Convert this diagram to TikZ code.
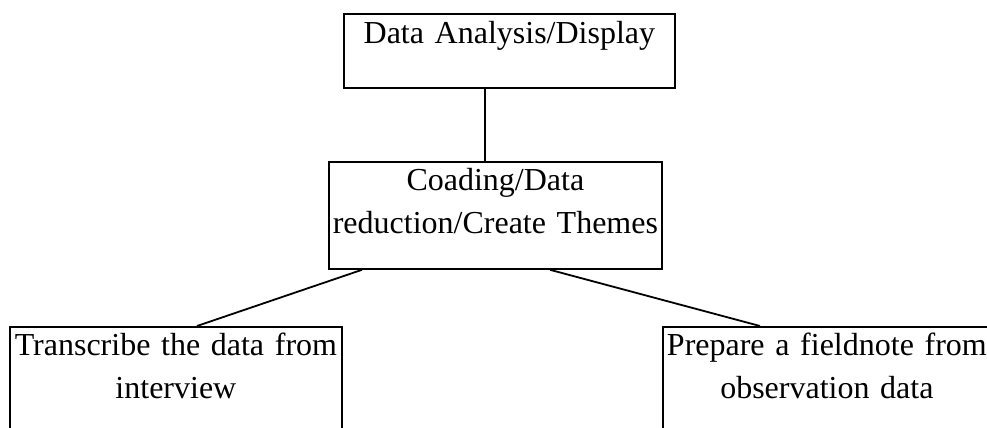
\documentclass[tikz,border=0pt]{standalone}
\usepackage{fontspec}
\setmainfont{Liberation Serif}
\usepackage{tikz}

\begin{document}
\begin{tikzpicture}[x=0.5pt,y=-0.5pt,
  procbox/.style={draw=black,line width=0.9pt,anchor=north west,inner sep=0pt,align=center,
    font=\fontsize{16pt}{21.5pt}\selectfont}]
  \useasboundingbox (0,0) rectangle (987,428);
  \clip (0,0) rectangle (987,428);
  \node[procbox,text width=165.5pt,text height=15pt,text depth=22pt] (analysis) at (343,13) {Data Analysis/Display};
  \node[procbox,text width=166.5pt,text height=14.5pt,text depth=39pt] (coding) at (328,161) {Coading/Data\\reduction/Create Themes};
  \node[procbox,text width=166pt,text height=14.5pt,text depth=60pt] (transcribe) at (9,326) {Transcribe the data from\\interview};
  \node[procbox,text width=164pt,text height=14.5pt,text depth=60pt] (fieldnote) at (662,326) {Prepare a fieldnote from\\observation data};
  \draw[line width=0.9pt] ([xshift=-12.25pt]analysis.south) -- ([xshift=-12.25pt]analysis.south |- coding.north);
  \draw[line width=0.9pt] ([xshift=17pt]coding.south west) -- ([xshift=94pt]transcribe.north west);
  \draw[line width=0.9pt] ([xshift=111pt]coding.south west) -- ([xshift=49pt]fieldnote.north west);
\end{tikzpicture}
\end{document}
